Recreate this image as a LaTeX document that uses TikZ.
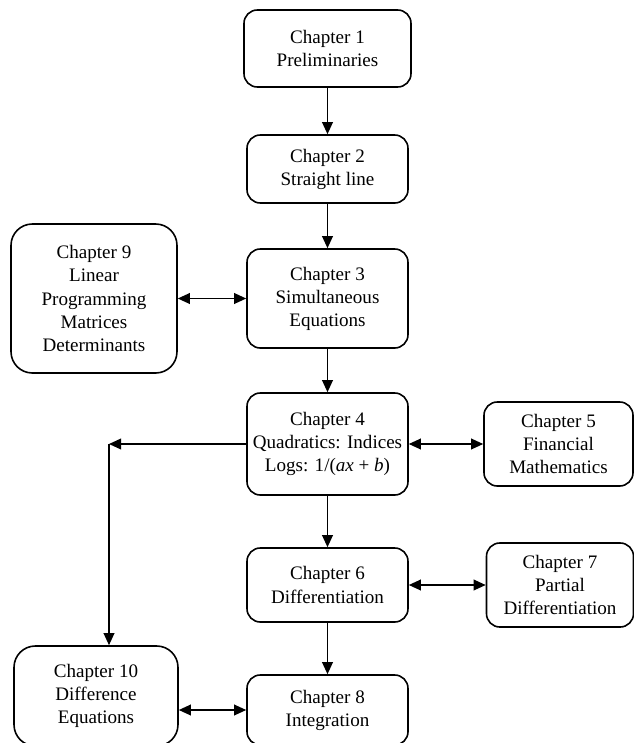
\documentclass[tikz,border=0pt]{standalone}
\usepackage{fontspec}
\setmainfont{Liberation Serif}
\usetikzlibrary{arrows.meta, positioning}
\tikzset{
  chap/.style={draw, line width=1.2pt, rounded corners=10pt, align=center,
    inner sep=0pt, font=\fontsize{14.3}{17.3}\selectfont},
  bigchap/.style={chap, rounded corners=16pt},
  arr/.style={-{Triangle[length=9pt, width=8pt]}, line width=1.1pt},
  twoarr/.style={{Triangle[length=9pt, width=8pt]}-{Triangle[length=9pt, width=8pt]}, line width=1.1pt}
}
\begin{document}
\begin{tikzpicture}[x=0.75pt, y=-0.75pt]
            \useasboundingbox (0,0) rectangle (634,743);

            % Draw the chapters
            \node[chap, minimum width=125.25pt, minimum height=57.75pt] (c1) at (327.5,48.5) {Chapter 1\\Preliminaries};
            \node[chap, minimum width=120.75pt, minimum height=51pt] (c2) at (327.5,169) {Chapter 2\\Straight line};
            \node[chap, minimum width=120.75pt, minimum height=74.25pt] (c3) at (327.5,298.5) {Chapter 3\\Simultaneous\\Equations};
            \node[bigchap, minimum width=124.5pt, minimum height=111.75pt] (c9) at (94,298.5) {Chapter 9\\Linear\\Programming\\Matrices\\Determinants};
            \node[chap, minimum width=120.75pt, minimum height=76.5pt] (c4) at (327.5,444) {Chapter 4\\Quadratics: Indices\\Logs: 1/(\textit{ax} + \textit{b})};
            \node[chap, minimum width=111.75pt, minimum height=63pt] (c5) at (558.5,444) {Chapter 5\\Financial\\Mathematics};
            \node[chap, minimum width=120.75pt, minimum height=55.5pt] (c6) at (327.5,585) {Chapter 6\\Differentiation};
            \node[chap, minimum width=110.25pt, minimum height=63pt] (c7) at (560,585) {Chapter 7\\Partial\\Differentiation};
            \node[bigchap, minimum width=123pt, minimum height=75pt] (c10) at (96,696) {Chapter 10\\Difference\\Equations};
            \node[chap, minimum width=120.75pt, minimum height=52.5pt] (c8) at (327.5,710) {Chapter 8\\Integration};

            % Draw the arrows
            \draw[arr] (c1) -- (c2);
            \draw[arr] (c2) -- (c3);
            \draw[arr] (c3) -- (c4);
            \draw[arr] (c4) -- (c6);
            \draw[arr] (c6) -- (c8);
            \draw[twoarr] (c9) -- (c3);
            \draw[twoarr] (c4) -- (c5);
            \draw[twoarr] (c6) -- (c7);
            \draw[twoarr] (c10.east |- c8.west) -- (c8.west);
            \coordinate (turn) at (109,444);
            \draw[arr] (c4.west) -- (turn);
            \draw[arr] (turn) -- (turn |- c10.north);
        \end{tikzpicture}
\end{document}
